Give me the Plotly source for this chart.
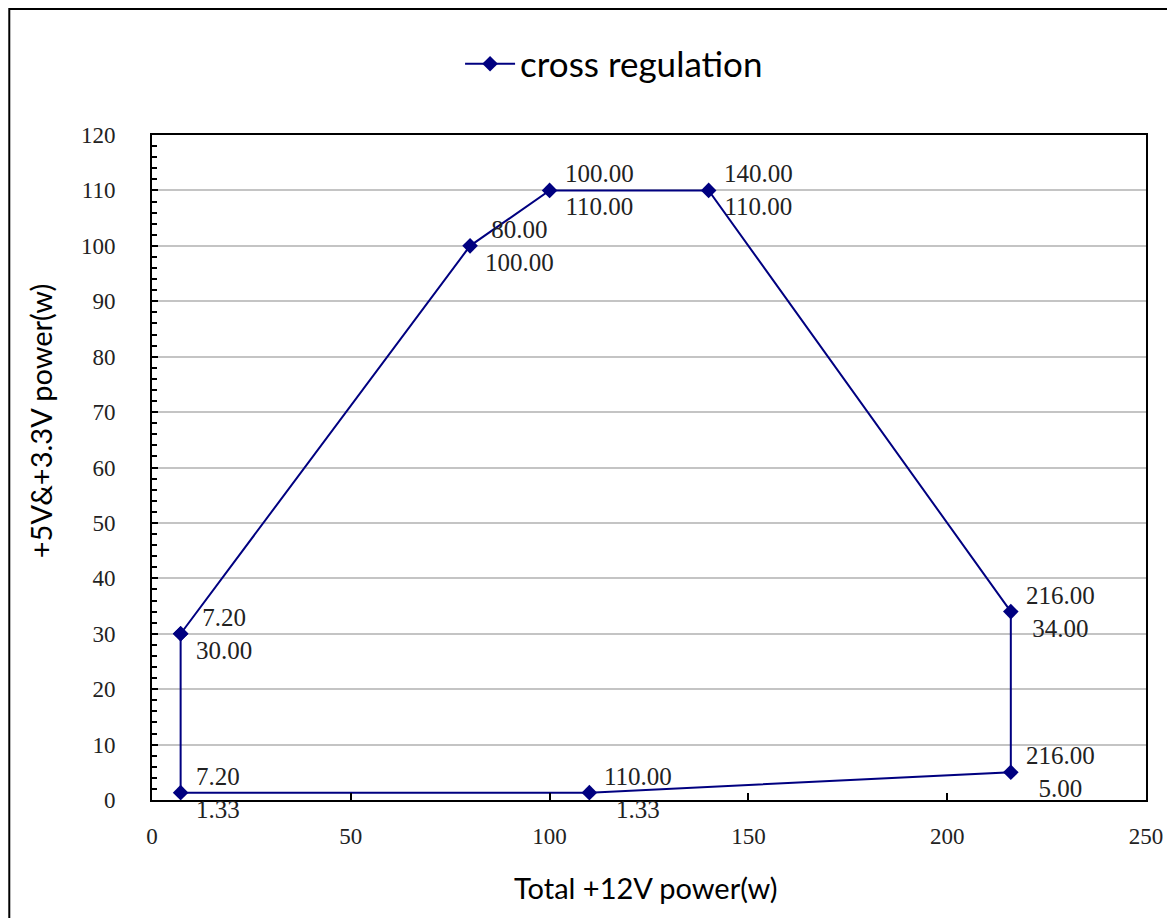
import plotly.graph_objects as go

# Data (closed loop of the cross-regulation envelope)
x_vals = [7.2, 80, 100, 140, 216, 216, 110, 7.2, 7.2]
y_vals = [30, 100, 110, 110, 34, 5, 1.33, 1.33, 30]
series_name = "cross regulation"
x_ticks = [0, 50, 100, 150, 200, 250]
y_ticks = [0, 10, 20, 30, 40, 50, 60, 70, 80, 90, 100, 110, 120]

OFF = 8  # page body margin
W, H = 1175 - OFF, 918 - OFF
L, T = 152 - OFF, 135 - OFF
PW, PH = 996, 665
R, B = W - L - PW, H - T - PH

def px_x(p):
    return (p - OFF - L) / PW

def px_y(p):
    return (T + PH - (p - OFF)) / PH

navy = "#000080"
label_font = dict(family="Liberation Serif", size=25, color="#222222")
tick_font = dict(family="Liberation Serif", size=23, color="#222222")
sans = "Lato"

fig = go.Figure()
fig.add_trace(go.Scatter(
    x=x_vals, y=y_vals, mode="lines+markers", name=series_name,
    line=dict(color=navy, width=2),
    marker=dict(symbol="diamond", size=12, color=navy),
))

annotations = []
for xv, yv in zip(x_vals[:-1], y_vals[:-1]):
    annotations.append(dict(
        x=xv, y=yv, xref="x", yref="y",
        text=f"{xv:.2f}<br>{yv:.2f}",
        showarrow=False, xanchor="left", yanchor="middle",
        align="center", xshift=13, font=label_font,
    ))

annotations.append(dict(
    x=px_x(646), y=px_y(888), xref="paper", yref="paper",
    text="Total +12V power(w)", showarrow=False,
    xanchor="center", yanchor="middle",
    font=dict(family=sans, size=29, color="black"),
))
annotations.append(dict(
    x=px_x(40), y=px_y(421), xref="paper", yref="paper",
    text="+5V&+3.3V power(w)", showarrow=False, textangle=-90,
    xanchor="center", yanchor="middle",
    font=dict(family=sans, size=29, color="black"),
))

fig.update_layout(
    width=W, height=H,
    margin=dict(l=L, r=R, t=T, b=B),
    paper_bgcolor="white", plot_bgcolor="white",
    showlegend=True,
    legend=dict(
        x=px_x(615), y=px_y(64), xanchor="center", yanchor="middle",
        orientation="h", font=dict(family=sans, size=35, color="black"),
        bgcolor="rgba(0,0,0,0)", itemwidth=50,
    ),
    annotations=annotations,
    shapes=[dict(
        type="rect", xref="paper", yref="paper",
        x0=px_x(9), x1=px_x(1200), y0=px_y(940), y1=px_y(9),
        line=dict(color="black", width=2), layer="below",
    )],
)

fig.update_xaxes(
    range=[0, 250], tickvals=x_ticks, ticktext=[str(v) for v in x_ticks],
    showline=True, linecolor="black", linewidth=2, mirror=True,
    ticks="inside", ticklen=7, tickcolor="black", tickwidth=1.5,
    showgrid=False, zeroline=False, tickfont=tick_font,
    ticklabelstandoff=14,
)
fig.update_yaxes(
    range=[0, 120], tickvals=y_ticks, ticktext=[str(v) for v in y_ticks],
    showline=True, linecolor="black", linewidth=2, mirror=True,
    ticks="inside", ticklen=6, tickcolor="black", tickwidth=1.5,
    showgrid=True, gridcolor="#c4c4c4", gridwidth=1.5,
    zeroline=False, tickfont=tick_font, ticklabelstandoff=30,
    minor=dict(dtick=2, ticks="inside", ticklen=5, tickcolor="black",
               tickwidth=1.5, showgrid=False),
)

fig.write_html("out.html")
